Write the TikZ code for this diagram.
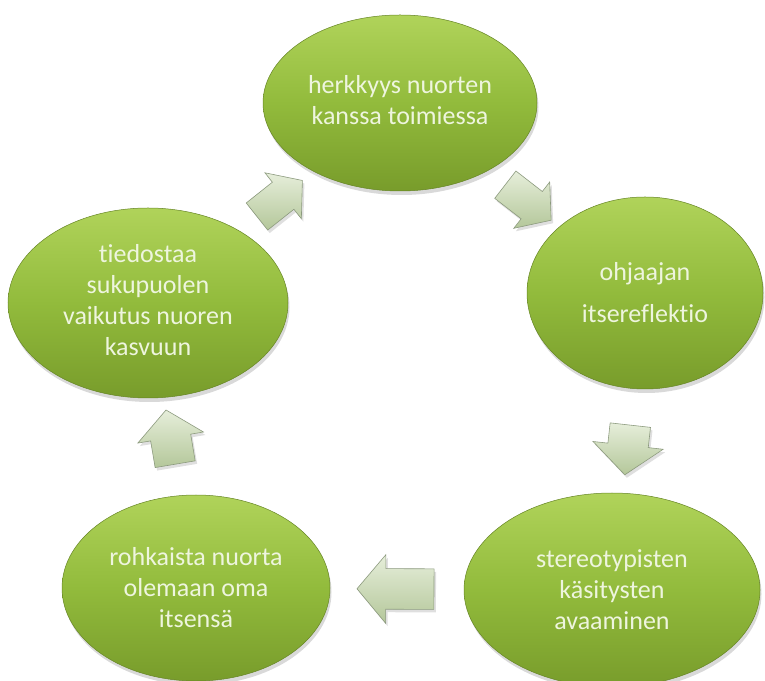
\documentclass[tikz,border=0pt]{standalone}
\usepackage{fontspec}
\setmainfont{Carlito}[Ligatures=CommonOff]
\usepackage{tikz}
\usetikzlibrary{shapes.geometric, shapes.arrows, shadows, positioning}
\definecolor{leafTop}{HTML}{B0D35A}
\definecolor{leafMid}{HTML}{92BB3C}
\definecolor{leafBot}{HTML}{789C2B}
\definecolor{leafText}{HTML}{EEF5DE}
\definecolor{arrowTop}{HTML}{E6EEDA}
\definecolor{arrowBot}{HTML}{B4C79A}
\definecolor{arrowEdge}{HTML}{8C9A7E}

\begin{document}
\begin{tikzpicture}[x=1pt, y=1pt,
    bubble/.style={ellipse, inner sep=0pt, align=center, text=leafText,
      font=\fontsize{26}{31}\selectfont,
      top color=leafTop, bottom color=leafBot, middle color=leafMid,
      draw=leafBot!85!black, line width=0.5pt,
      drop shadow={opacity=0.3, shadow xshift=1.5pt, shadow yshift=-4pt}},
    flow/.style={single arrow, sloped, allow upside down, inner xsep=0pt,
      single arrow tip angle=100,
      draw=arrowEdge, line width=0.6pt, top color=arrowTop, bottom color=arrowBot,
      drop shadow={opacity=0.25, shadow xshift=2pt, shadow yshift=-3pt}}]
    \useasboundingbox (0,0) rectangle (765,680);
    \clip (0,0) rectangle (765,680);
    % the five ellipses of the cycle
    \node[bubble, minimum width=274pt, minimum height=176pt] (herkkyys) at (400,577)
      {\raisebox{-11pt}{\begin{tabular}{@{}c@{}}herkkyys nuorten\\kanssa toimiessa\end{tabular}}};
    \node[bubble, minimum width=236pt, minimum height=192pt] (itserefl) at (645,387)
      {ohjaajan\\[11pt]itsereflektio};
    \node[bubble, minimum width=296pt, minimum height=194pt] (stereo) at (612,90)
      {stereotypisten\\käsitysten\\avaaminen};
    \node[bubble, minimum width=268pt, minimum height=186pt] (rohkaista) at (196,92)
      {rohkaista nuorta\\olemaan oma\\itsensä};
    \node[bubble, minimum width=280pt, minimum height=190pt] (tiedostaa) at (148,377)
      {\raisebox{4pt}{\begin{tabular}{@{}c@{}}tiedostaa\\sukupuolen\\vaikutus nuoren\\kasvuun\end{tabular}}};
    % block arrows between them
    \foreach \from/\to/\len/\shaft/\ext in {herkkyys/itserefl/58/17/12, itserefl/stereo/50/20/15,
        stereo/rohkaista/77/20/14, rohkaista/tiedostaa/55/20/13, tiedostaa/herkkyys/58/17/12}
      \path (\from.center) -- node[flow, minimum height=\len pt, inner ysep=\shaft pt,
        single arrow head extend=\ext pt] (arr-\from) {} (\to.center);
  \end{tikzpicture}
\end{document}
